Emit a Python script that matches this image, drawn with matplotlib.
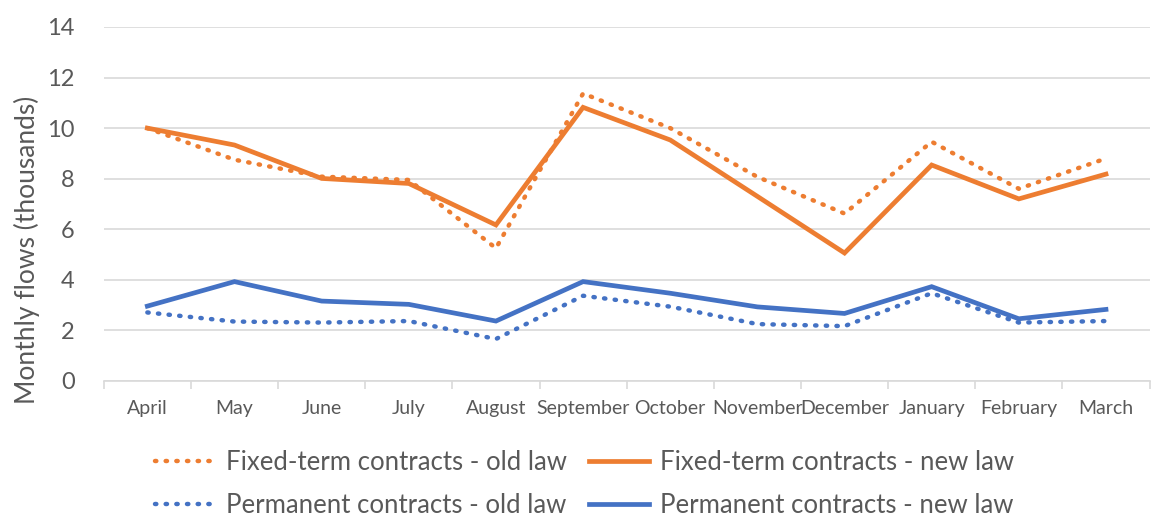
import numpy as np
import matplotlib
matplotlib.use("Agg")
import matplotlib.pyplot as plt
from matplotlib.ticker import FixedLocator

# ── data ──────────────────────────────────────────────────────────────────────
months = ["April", "May", "June", "July", "August", "September", "October",
          "November", "December", "January", "February", "March"]

fixed_old = [10.0, 8.75, 8.08, 7.95, 5.25, 11.37, 10.0, 8.07, 6.62, 9.46, 7.6, 8.8]
fixed_new = [10.0, 9.33, 8.01, 7.81, 6.17, 10.82, 9.53, 7.3, 5.06, 8.54, 7.2, 8.18]
perm_old  = [2.71, 2.35, 2.31, 2.37, 1.66, 3.37, 2.94, 2.25, 2.17, 3.47, 2.31, 2.37]
perm_new  = [2.96, 3.93, 3.16, 3.03, 2.37, 3.93, 3.47, 2.93, 2.67, 3.73, 2.46, 2.83]

ORANGE = "#ED7D31"
BLUE   = "#4472C4"
TEXT   = "#595959"
GRID   = "#D9D9D9"

plt.rcParams["font.family"] = ["Lato", "DejaVu Sans"]

fig = plt.figure(figsize=(11.53, 5.18), dpi=100)
ax = fig.add_axes([0.090, 0.2645, 0.907, 0.6835])

x = np.arange(len(months))
dot = (0, (0.3, 2.1))

l1, = ax.plot(x, fixed_old, color=ORANGE, lw=3.2, ls=dot, dash_capstyle="round",
              label="Fixed-term contracts - old law")
l2, = ax.plot(x, fixed_new, color=ORANGE, lw=3.4, solid_joinstyle="miter",
              label="Fixed-term contracts - new law")
l3, = ax.plot(x, perm_old, color=BLUE, lw=3.2, ls=dot, dash_capstyle="round",
              label="Permanent contracts - old law")
l4, = ax.plot(x, perm_new, color=BLUE, lw=3.4, solid_joinstyle="miter",
              label="Permanent contracts - new law")

ax.set_xlim(-0.5, len(months) - 0.5)
ax.set_ylim(0, 14)
ax.set_yticks(np.arange(0, 15, 2))
ax.grid(axis="y", color=GRID, lw=1.2)
ax.set_axisbelow(True)

ax.set_xticks(x)
ax.set_xticklabels(months, fontsize=14, color=TEXT)
ax.xaxis.set_minor_locator(FixedLocator(np.arange(-0.5, len(months), 1.0)))
ax.tick_params(axis="x", which="major", length=0, pad=14)
ax.tick_params(axis="x", which="minor", length=6, color=GRID, width=1.2)
ax.tick_params(axis="y", length=0, labelsize=17, labelcolor=TEXT, pad=21)

for s in ("top", "right", "left"):
    ax.spines[s].set_visible(False)
ax.spines["bottom"].set_color(GRID)
ax.spines["bottom"].set_linewidth(1.2)

ax.set_ylabel("Monthly flows (thousands)", fontsize=19, color=TEXT)
ax.yaxis.set_label_coords(-0.061, 0.37)

# legend fills row by row: fixed-term on top, permanent below
fig.legend(handles=[l1, l3, l2, l4], loc="center", ncol=2,
           bbox_to_anchor=(0.507, 0.066), frameon=False, fontsize=18.5,
           labelcolor=TEXT, handlelength=2.35, handletextpad=0.4,
           columnspacing=0.86, labelspacing=0.72)

fig.savefig("out.png", dpi=100)
